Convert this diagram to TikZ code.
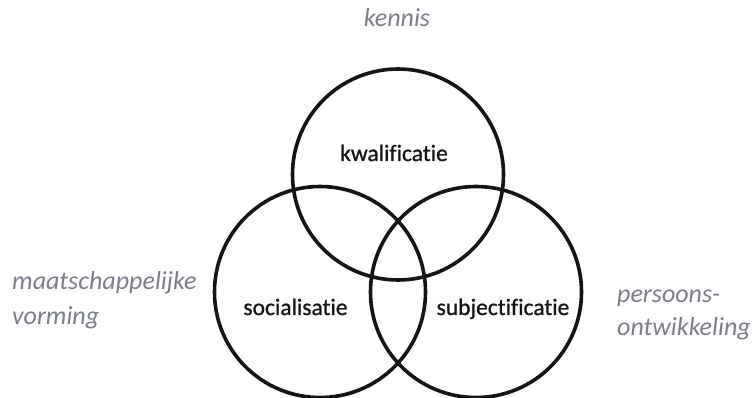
\documentclass[tikz,border=0pt]{standalone}
\usepackage{fontspec}
\setmainfont{Carlito}[Ligatures=NoCommon]
\newfontfamily\corefont{Carlito}[Ligatures=NoCommon, FakeBold=0.9]
\definecolor{labelgrey}{RGB}{122,126,138}
\definecolor{ink}{RGB}{20,20,20}
\tikzset{
  ring/.style={circle, draw=ink, line width=3.6pt, minimum size=211pt, inner sep=0pt},
  core/.style={anchor=base, inner sep=0pt, text=ink, font=\corefont\fontsize{23.5}{28}\selectfont},
  aside/.style={anchor=base west, inner sep=0pt, text=labelgrey, align=left,
    font=\fontsize{26}{34}\selectfont\itshape}
}
\begin{document}
\begin{tikzpicture}[x=1pt,y=-1pt]
\useasboundingbox (0,0) rectangle (753,398);
\node[ring] (top) at (398,174.5) {};
\node[ring] (left) at (320,292) {};
\node[ring] (right) at (476,292) {};
\node[core] (kw) at (394,161) {kwalificatie};
\node[core] (so) at (295.5,315) {socialisatie};
\node[core] (su) at (503,315) {subjectificatie};
\node[anchor=base, inner sep=0pt, text=labelgrey, font=\fontsize{26}{34}\selectfont\itshape] (ke) at (397,27) {kennis};
\node[aside] (ma) at (12,290) {maatschappelijke};
\node[aside] (vo) at (12,324) {vorming};
\node[aside] (pe) at (617,303) {persoons-};
\node[aside] (on) at (617,336) {ontwikkeling};
\end{tikzpicture}
\end{document}
